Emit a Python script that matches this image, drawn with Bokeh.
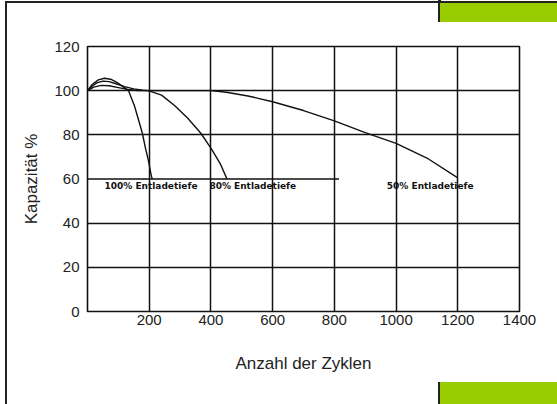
from bokeh.plotting import figure
from bokeh.models import FixedTicker
from bokeh.core.properties import value
from bokeh.embed import file_html
from bokeh.resources import INLINE

# ---------------- data ----------------
cyc_100 = [0, 15, 35, 55, 75, 95, 115, 133, 152, 166, 178, 188, 198, 207, 210]
cap_100 = [100, 102.8, 104.9, 105.6, 105.2, 103.8, 101.8, 100, 93.2, 86.5, 80.6, 73.9, 68, 61.3, 60]

cyc_80 = [0, 15, 30, 50, 70, 95, 120, 150, 180, 197, 240, 283, 325, 368, 403, 430, 448, 452]
cap_80 = [100, 102, 103.5, 104.3, 104.1, 103, 101.8, 100.8, 100.2, 100, 98, 93.2, 87.5, 80.6, 73.3, 67, 61.3, 60]

cyc_50 = [0, 20, 45, 70, 100, 130, 160, 250, 350, 400, 450, 520, 600, 700, 800, 900, 1000, 1100, 1200]
cap_50 = [100, 101.6, 102.4, 102.2, 101.4, 100.6, 100.1, 100, 100, 100, 99.3, 97.6, 95, 91, 86.3, 81, 76.1, 69.5, 60.5]

series_labels = ["100% Entladetiefe", "80% Entladetiefe", "50% Entladetiefe"]
label_x = [55, 395, 970]
label_y = [57, 57, 57]

x_ticks = [200, 400, 600, 800, 1000, 1200, 1400]
x_grid = [200, 400, 600, 800, 1000, 1200]
y_ticks = [0, 20, 40, 60, 80, 100, 120]
y_grid = [20, 40, 80, 100]
limit_level = [60, 60]
limit_span = [0, 815]

x_title = "Anzahl der Zyklen"
y_title = "Kapazität %"

# page decoration drawn as CSS background layers (left, top, width, height, colour)
deco = [
    (5, 1, 552, 2, "#222222"),
    (5, 1, 2, 403, "#222222"),
    (440, 3, 117, 19, "#99cc00"),
    (438, 0, 3, 22, "#222222"),
    (440, 382, 117, 22, "#99cc00"),
    (438, 382, 3, 22, "#222222"),
]
bg_styles = {
    "background-color": "white",
    "background-image": ", ".join(f"linear-gradient({c}, {c})" for *_, c in deco),
    "background-position": ", ".join(f"{l}px {t}px" for l, t, *_ in deco),
    "background-size": ", ".join(f"{w}px {h}px" for _, _, w, h, _ in deco),
    "background-repeat": "no-repeat",
}

# ---------------- figure ----------------
p = figure(width=557, height=404, frame_width=432, frame_height=265,
           min_border_left=87, min_border_right=38, min_border_top=46, min_border_bottom=93,
           x_range=(0, 1400), y_range=(0, 120),
           output_backend="svg", toolbar_location=None, styles=bg_styles)
p.background_fill_color = "white"
p.border_fill_color = None
p.outline_line_color = "#111111"
p.outline_line_width = 1.6

p.xgrid.ticker = FixedTicker(ticks=x_grid)
p.ygrid.ticker = FixedTicker(ticks=y_grid)
for g in (p.xgrid, p.ygrid):
    g.grid_line_color = "#111111"
    g.grid_line_width = 1.5

p.xaxis.ticker = FixedTicker(ticks=x_ticks)
p.yaxis.ticker = FixedTicker(ticks=y_ticks)
for ax in (p.xaxis, p.yaxis):
    ax.axis_line_color = None
    ax.major_tick_line_color = None
    ax.minor_tick_line_color = None
    ax.major_label_text_font = "Liberation Sans"
    ax.major_label_text_font_size = "15px"
    ax.major_label_text_color = "#222222"
    ax.axis_label_text_font = "Liberation Sans"
    ax.axis_label_text_font_size = "17px"
    ax.axis_label_text_font_style = "normal"
    ax.axis_label_text_color = "#222222"
p.xaxis.major_label_standoff = -3
p.yaxis.major_label_standoff = 2
p.xaxis.axis_label = x_title
p.yaxis.axis_label = y_title
p.xaxis.axis_label_standoff = 26
p.yaxis.axis_label_standoff = 10

# partial 60 % line
p.line(limit_span, limit_level, line_color="#111111", line_width=1.5)

for xs, ys in ((cyc_100, cap_100), (cyc_80, cap_80), (cyc_50, cap_50)):
    p.line(xs, ys, line_color="#111111", line_width=1.4)

p.text(x=label_x, y=label_y, text=series_labels, text_font=value("DejaVu Sans"),
       text_font_size="9px", text_font_style="bold", text_color="#111111",
       text_baseline="middle", text_align="left")

open("out.html", "w").write(file_html(p, INLINE))
